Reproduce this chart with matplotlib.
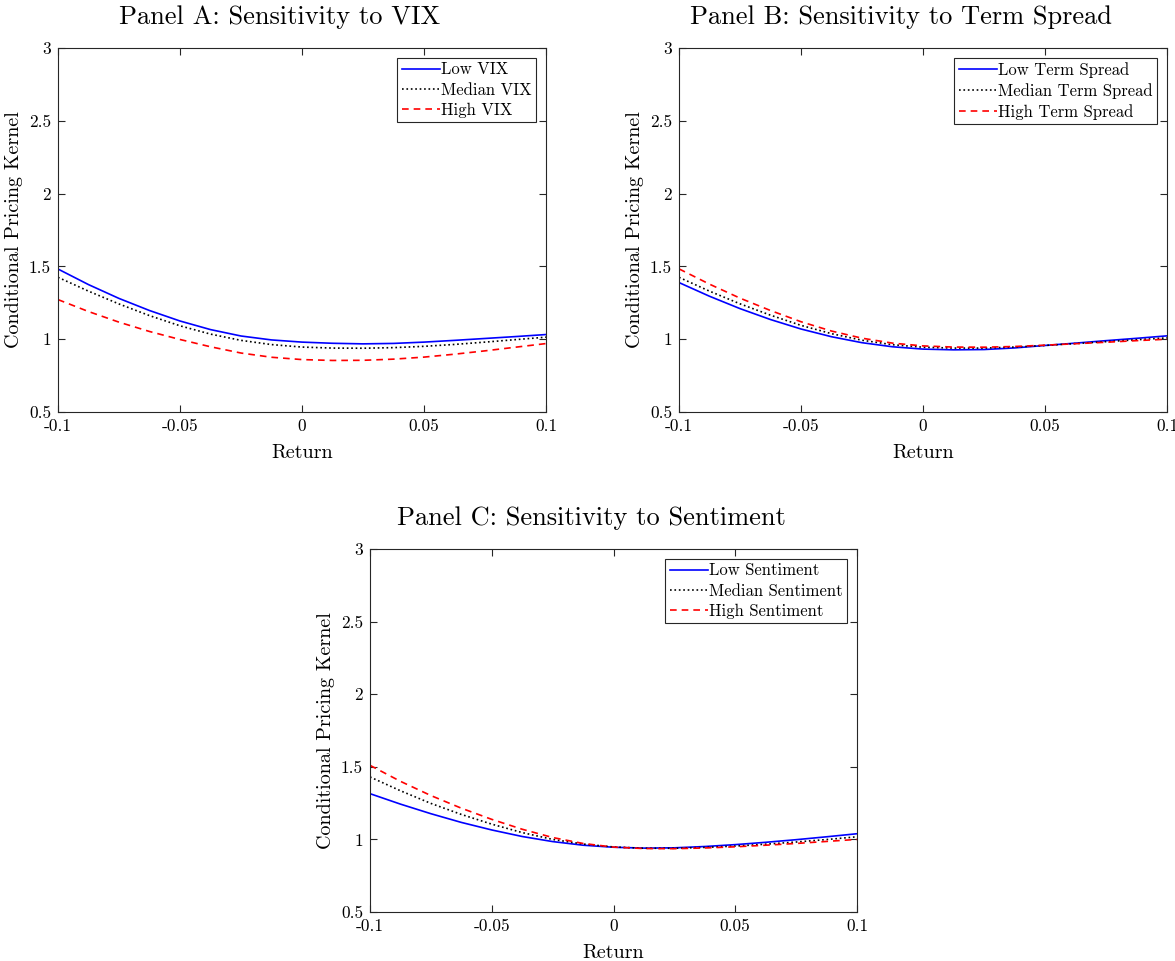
import numpy as np
import matplotlib
matplotlib.use('Agg')
import matplotlib.pyplot as plt

plt.rcParams['font.family'] = ['cmr10', 'DejaVu Serif']
plt.rcParams['mathtext.fontset'] = 'cm'
plt.rcParams['axes.unicode_minus'] = False

# Return grid
ret = [-0.1, -0.0875, -0.075, -0.0625, -0.05, -0.0375, -0.025, -0.0125, 0.0,
       0.0125, 0.025, 0.0375, 0.05, 0.0625, 0.075, 0.0875, 0.1]

# Panel A: VIX
low_vix = [1.482, 1.375, 1.280, 1.197, 1.125, 1.066, 1.022, 0.995, 0.980,
           0.972, 0.968, 0.971, 0.980, 0.992, 1.005, 1.018, 1.032]
med_vix = [1.425, 1.330, 1.242, 1.162, 1.092, 1.035, 0.992, 0.963, 0.946,
           0.939, 0.938, 0.942, 0.951, 0.964, 0.980, 0.997, 1.014]
high_vix = [1.272, 1.190, 1.117, 1.053, 0.998, 0.948, 0.905, 0.876, 0.860,
            0.854, 0.855, 0.863, 0.877, 0.897, 0.920, 0.945, 0.970]

# Panel B: term spread
low_ts = [1.389, 1.295, 1.210, 1.135, 1.070, 1.017, 0.976, 0.948, 0.932,
          0.927, 0.929, 0.940, 0.957, 0.973, 0.990, 1.006, 1.023]
med_ts = [1.425, 1.330, 1.243, 1.165, 1.095, 1.038, 0.993, 0.962, 0.945,
          0.939, 0.939, 0.946, 0.957, 0.970, 0.983, 0.996, 1.009]
high_ts = [1.483, 1.378, 1.282, 1.197, 1.120, 1.056, 1.007, 0.973, 0.954,
           0.946, 0.945, 0.950, 0.959, 0.969, 0.979, 0.990, 1.000]

# Panel C: sentiment
low_sent = [1.315, 1.243, 1.177, 1.117, 1.065, 1.020, 0.985, 0.960, 0.946,
            0.940, 0.942, 0.951, 0.964, 0.980, 0.998, 1.018, 1.039]
med_sent = [1.430, 1.335, 1.248, 1.172, 1.105, 1.047, 1.000, 0.968, 0.948,
            0.939, 0.939, 0.945, 0.954, 0.967, 0.982, 0.999, 1.018]
high_sent = [1.510, 1.400, 1.302, 1.215, 1.138, 1.070, 1.013, 0.972, 0.947,
             0.937, 0.936, 0.941, 0.949, 0.960, 0.972, 0.986, 1.000]

xticks = [-0.1, -0.05, 0, 0.05, 0.1]
xtick_labels = ['-0.1', '-0.05', '0', '0.05', '0.1']
yticks = [0.5, 1, 1.5, 2, 2.5, 3]
ytick_labels = ['0.5', '1', '1.5', '2', '2.5', '3']

panels = [
    ('Panel A: Sensitivity to VIX', 'VIX', low_vix, med_vix, high_vix,
     [58, 412, 488, 364]),
    ('Panel B: Sensitivity to Term Spread', 'Term Spread', low_ts, med_ts, high_ts,
     [679, 412, 488, 364]),
    ('Panel C: Sensitivity to Sentiment', 'Sentiment', low_sent, med_sent, high_sent,
     [370, 912, 487, 363]),
]

W, H = 1175, 961
fig = plt.figure(figsize=(W / 100, H / 100), dpi=100)
axcol = '#262626'

for title, name, lo, md, hi, (l, b, w, h) in panels:
    ax = fig.add_axes([l / W, 1 - b / H, w / W, h / H])
    ax.plot(ret, lo, color='#0000ff', lw=1.2, label='Low ' + name)
    ax.plot(ret, md, color='black', lw=1.2, ls=':', label='Median ' + name)
    ax.plot(ret, hi, color='#ff0000', lw=1.2, ls=(0, (4, 3)), label='High ' + name)
    ax.set_xlim(-0.1, 0.1)
    ax.set_ylim(0.5, 3)
    ax.set_xticks(xticks)
    ax.set_xticklabels(xtick_labels)
    ax.set_yticks(yticks)
    ax.set_yticklabels(ytick_labels)
    ax.tick_params(direction='in', top=True, right=True, length=5, width=0.8,
                   labelsize=12.5, colors=axcol, labelcolor='black')
    ax.tick_params(axis='x', pad=5)
    ax.tick_params(axis='y', pad=5)
    for s in ax.spines.values():
        s.set_color(axcol)
        s.set_linewidth(0.8)
    # titles sit a bit left of the axes centre, as in the original
    ax.set_title(title, fontsize=19, pad=17, x=0.5 - 22 / w)
    ax.set_xlabel('Return', fontsize=14.5, labelpad=7)
    ax.set_ylabel('Conditional Pricing Kernel', fontsize=14.5, labelpad=4)
    leg = ax.legend(loc='upper right', fontsize=12, fancybox=False,
                    edgecolor=axcol, framealpha=1, handlelength=2.3,
                    handletextpad=0.08, borderpad=0.25, labelspacing=0.3,
                    borderaxespad=0.6)
    leg.get_frame().set_linewidth(0.8)

plt.savefig('out.png', dpi=100)
